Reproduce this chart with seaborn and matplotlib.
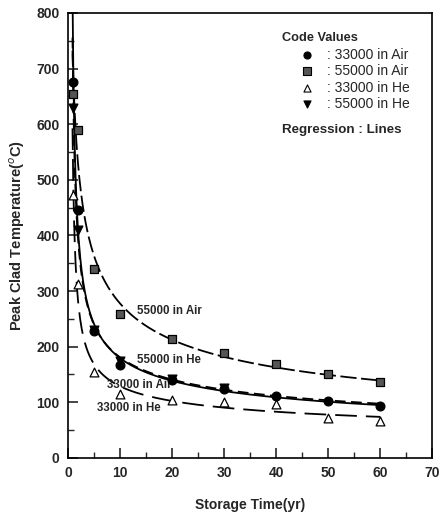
import numpy as np
import pandas as pd
import matplotlib
matplotlib.use("Agg")
import matplotlib.pyplot as plt
import seaborn as sns
from matplotlib.ticker import MultipleLocator

# ---- data ----
years = [1, 2, 5, 10, 20, 30, 40, 50, 60]
air_33000 = [675, 446, 228, 167, 140, 123, 112, 102, 93]
air_55000 = [655, 590, 340, 258, 214, 188, 168, 150, 136]
he_33000 = [473, 312, 155, 115, 104, 101, 97, 72, 67]
years_he55 = [1, 2, 5, 10, 20, 30]
he_55000 = [630, 410, 230, 175, 142, 125]

series_names = ["33000 in Air", "55000 in Air", "33000 in He", "55000 in He"]
x_ticks = [0, 10, 20, 30, 40, 50, 60, 70]
y_ticks = [0, 100, 200, 300, 400, 500, 600, 700, 800]

sns.set_style("ticks")
plt.rcParams["font.family"] = ["Liberation Sans", "DejaVu Sans"]

fig = plt.figure(figsize=(4.42, 5.18), dpi=100)
ax = fig.add_axes([0.154, 0.116, 0.824, 0.859])


def basis(t):
    return np.column_stack([np.ones_like(t), np.log(t), 1.0 / t])


def fit(t, y):
    # regression: ln(y) = a + b ln(t) + c / t
    t = np.asarray(t, float)
    y = np.asarray(y, float)
    coef, *_ = np.linalg.lstsq(basis(t), np.log(y), rcond=None)
    tt = np.linspace(0.85, 60, 400)
    return tt, np.exp(basis(tt) @ coef)


styles = {
    "33000 in Air": dict(t=years, y=air_33000, marker="o", mfc="black", dashes=None),
    "55000 in Air": dict(t=years, y=air_55000, marker="s", mfc="#555555", dashes=(9, 2.5)),
    "33000 in He": dict(t=years, y=he_33000, marker="^", mfc="white", dashes=(12, 5)),
    "55000 in He": dict(t=years_he55, y=he_55000, marker="v", mfc="black", dashes=(6, 3)),
}

for name in series_names:
    s = styles[name]
    tt, yy = fit(s["t"], s["y"])
    line_df = pd.DataFrame({"t": tt, "y": yy})
    sns.lineplot(data=line_df, x="t", y="y", ax=ax, color="black", lw=1.3,
                 estimator=None, sort=False)
    ln = ax.lines[-1]
    if s["dashes"] is not None:
        ln.set_dashes(s["dashes"])
    pts = pd.DataFrame({"t": s["t"], "y": s["y"]})
    sns.scatterplot(data=pts, x="t", y="y", ax=ax, marker=s["marker"], s=40,
                    color=s["mfc"], edgecolor="black", linewidth=0.9, zorder=5)

ax.set_xlim(0, 70)
ax.set_ylim(0, 800)
ax.set_xticks(x_ticks)
ax.set_yticks(y_ticks)
ax.xaxis.set_minor_locator(MultipleLocator(5))
ax.yaxis.set_minor_locator(MultipleLocator(50))
ax.tick_params(axis="both", which="major", direction="in", length=7, width=1.2,
               labelsize=10, pad=6)
ax.tick_params(axis="both", which="minor", direction="in", length=4, width=1.0)
for lab in ax.get_xticklabels() + ax.get_yticklabels():
    lab.set_fontweight("bold")
for sp in ax.spines.values():
    sp.set_visible(True)
    sp.set_linewidth(1.2)
    sp.set_color("black")

ax.set_xlabel("Storage Time(yr)", fontsize=10, fontweight="bold", labelpad=13)
ax.set_ylabel("Peak Clad Temperature($^o$C)", fontsize=10.5, fontweight="bold", labelpad=7)

# curve annotations
ann = [("55000 in Air", 13.3, 264), ("55000 in He", 13.3, 176),
       ("33000 in Air", 7.4, 131), ("33000 in He", 5.6, 90)]
for txt, x, y in ann:
    ax.text(x, y, txt, fontsize=8.3, fontweight="bold", va="center", ha="left")

# legend-like text block
ax.text(0.588, 0.944, "Code Values", transform=ax.transAxes, fontsize=9.2,
        fontweight="bold", va="center")
rows_y = [0.906, 0.869, 0.831, 0.795]
for name, ry in zip(series_names, rows_y):
    s = styles[name]
    ax.scatter([0.655], [ry], transform=ax.transAxes, marker=s["marker"], s=26,
               color=s["mfc"], edgecolor="black", linewidth=0.8, zorder=6, clip_on=False)
    ax.text(0.712, ry, ": " + name, transform=ax.transAxes, fontsize=10, va="center")
ax.text(0.588, 0.737, "Regression : Lines", transform=ax.transAxes, fontsize=9.6,
        fontweight="bold", va="center")

fig.savefig("out.png", dpi=100)
